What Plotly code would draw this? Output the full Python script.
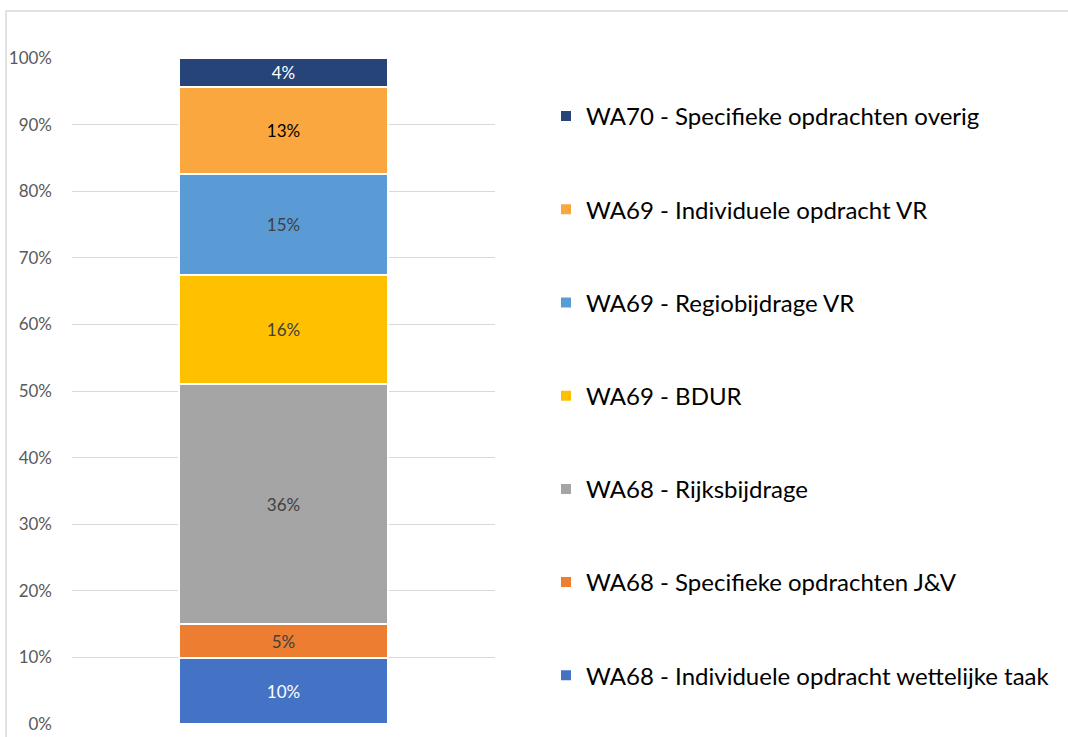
import plotly.graph_objects as go

category = [""]
series_names = [
    "WA68 - Individuele opdracht wettelijke taak",
    "WA68 - Specifieke opdrachten J&V",
    "WA68 - Rijksbijdrage",
    "WA69 - BDUR",
    "WA69 - Regiobijdrage VR",
    "WA69 - Individuele opdracht VR",
    "WA70 - Specifieke opdrachten overig",
]
series_values = [0.099, 0.051, 0.360, 0.164, 0.152, 0.130, 0.044]
series_labels = ["10%", "5%", "36%", "16%", "15%", "13%", "4%"]
colors = ["#4472C4", "#ED7D31", "#A5A5A5", "#FFC000", "#5B9BD5", "#F9A73E", "#264478"]
label_colors = ["#FFFFFF", "#404040", "#404040", "#404040", "#404040", "#000000", "#FFFFFF"]
y_ticks = [i / 10 for i in range(11)]
y_tick_text = [f"{i*10}%" for i in range(11)]

FONT = "Lato, 'Open Sans', sans-serif"

fig = go.Figure()
n = len(series_names)
for i, (name, val, lab, col, lc) in enumerate(zip(series_names, series_values, series_labels, colors, label_colors)):
    fig.add_trace(go.Bar(
        x=category, y=[val], name=name, legendgroup=name,
        legendrank=n - i,
        marker=dict(color=col, line=dict(color="white", width=2)),
        text=[lab], textposition="inside", insidetextanchor="middle",
        textfont=dict(color=lc, size=17, family=FONT),
        constraintext="none",
        hoverinfo="name+y",
    ))

W, H = 1068, 737
L, R, T, B = 72, 495, 58, 724
pw, ph = R - L, B - T

fig.update_layout(
    barmode="stack",
    bargap=0.505,
    width=W, height=H,
    margin=dict(l=L, r=W - R, t=T, b=H - B, pad=0, autoexpand=False),
    plot_bgcolor="white", paper_bgcolor="white",
    font=dict(family=FONT, color="#595959"),
    xaxis=dict(showgrid=False, showticklabels=False, zeroline=False, showline=False,
               fixedrange=True, automargin=False),
    yaxis=dict(range=[0, 1], tickvals=y_ticks, ticktext=y_tick_text,
               showgrid=True, gridcolor="#D9D9D9", gridwidth=1,
               zeroline=False, showline=False, automargin=False,
               tickfont=dict(size=17, color="#595959", family=FONT),
               ticks="", ticklabelstandoff=19),
    legend=dict(
        x=(546 - L) / pw, xanchor="left",
        y=(B - 94) / ph, yanchor="top",
        traceorder="grouped",
        tracegroupgap=59,
        font=dict(size=24, color="#000000", family=FONT),
        bgcolor="rgba(0,0,0,0)",
    ),
    showlegend=True,
    shapes=[dict(
        type="rect", xref="paper", yref="paper",
        x0=(6 - L) / pw, x1=(W + 10 - L) / pw,
        y0=(B - (H + 10)) / ph, y1=(B - 11) / ph,
        line=dict(color="#D9D9D9", width=1.5), fillcolor="rgba(0,0,0,0)", layer="below",
    )],
)

fig.write_html(
    "out.html",
    config={"displayModeBar": False},
    post_script="document.body.style.margin='0';document.body.style.overflow='hidden';",
)
